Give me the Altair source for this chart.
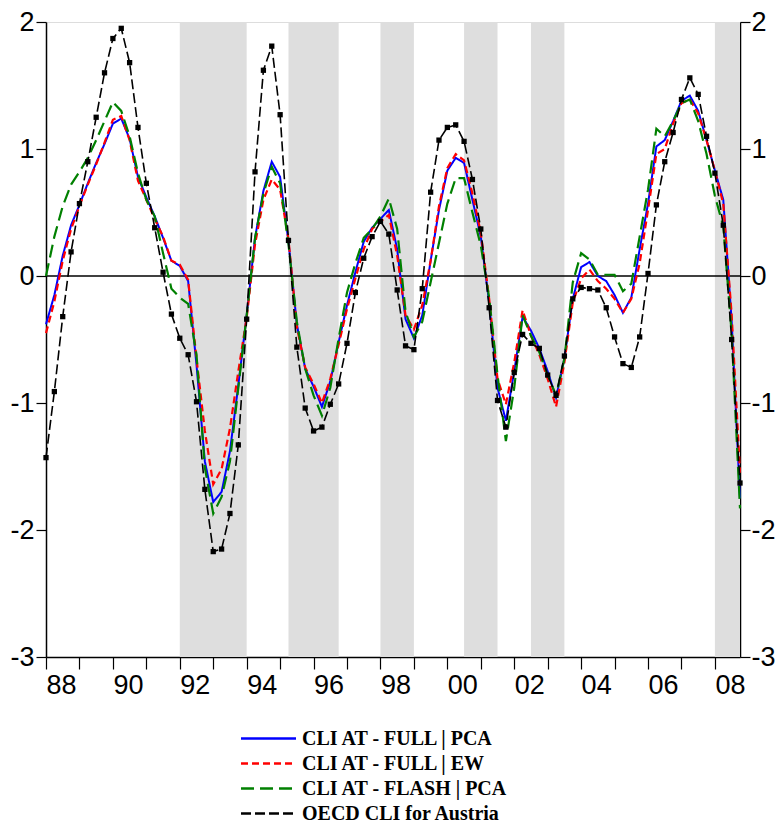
import altair as alt
import pandas as pd

# ---------------- data ----------------
start_year = 1988  # first quarter 1988Q1, quarterly data to 2008Q4
series_names = ["CLI AT - FULL | PCA", "CLI AT - FULL | EW",
                "CLI AT - FLASH | PCA", "OECD CLI for Austria"]

cli_full_pca = [-0.38, -0.15, 0.16, 0.40, 0.56, 0.73, 0.89, 1.04, 1.20, 1.24,
                1.08, 0.78, 0.62, 0.47, 0.30, 0.12, 0.08, -0.04, -0.70, -1.46,
                -1.78, -1.70, -1.38, -0.86, -0.31, 0.30, 0.67, 0.90, 0.78, 0.27,
                -0.38, -0.73, -0.87, -1.03, -0.83, -0.52, -0.23, 0.03, 0.27, 0.38,
                0.45, 0.52, 0.21, -0.34, -0.49, -0.31, 0.12, 0.52, 0.83, 0.93,
                0.89, 0.60, 0.31, -0.21, -0.88, -1.14, -0.75, -0.32, -0.43, -0.57,
                -0.75, -0.96, -0.65, -0.18, 0.07, 0.11, 0.00, -0.04, -0.15, -0.29,
                -0.17, 0.21, 0.57, 1.02, 1.07, 1.22, 1.38, 1.42, 1.30, 1.07,
                0.83, 0.60, -0.35, -1.75]

cli_full_ew = [-0.45, -0.20, 0.12, 0.37, 0.55, 0.72, 0.88, 1.05, 1.23, 1.26,
               1.07, 0.75, 0.60, 0.45, 0.31, 0.12, 0.09, -0.03, -0.65, -1.22,
               -1.64, -1.52, -1.20, -0.75, -0.33, 0.25, 0.60, 0.76, 0.68, 0.29,
               -0.40, -0.72, -0.85, -1.00, -0.81, -0.54, -0.26, -0.02, 0.21, 0.37,
               0.43, 0.48, 0.16, -0.31, -0.42, -0.23, 0.12, 0.55, 0.85, 0.96,
               0.91, 0.65, 0.34, -0.18, -0.81, -1.01, -0.68, -0.27, -0.47, -0.62,
               -0.81, -1.03, -0.68, -0.21, -0.02, 0.05, -0.04, -0.10, -0.18, -0.29,
               -0.18, 0.10, 0.52, 0.96, 1.00, 1.20, 1.36, 1.39, 1.28, 1.07,
               0.83, 0.57, -0.30, -1.55]

cli_flash_pca = [0.00, 0.31, 0.55, 0.72, 0.82, 0.93, 1.07, 1.22, 1.37, 1.30,
                 1.10, 0.81, 0.60, 0.47, 0.18, -0.10, -0.17, -0.22, -0.62, -1.51,
                 -1.87, -1.74, -1.46, -0.88, -0.31, 0.30, 0.65, 0.86, 0.73, 0.25,
                 -0.36, -0.73, -0.94, -1.10, -0.88, -0.49, -0.13, 0.10, 0.30, 0.37,
                 0.47, 0.61, 0.37, -0.28, -0.48, -0.36, -0.05, 0.26, 0.57, 0.77,
                 0.77, 0.50, 0.24, -0.17, -0.78, -1.30, -0.88, -0.31, -0.47, -0.60,
                 -0.78, -0.94, -0.65, -0.05, 0.18, 0.13, 0.01, 0.01, 0.01, -0.12,
                 -0.06, 0.31, 0.68, 1.16, 1.10, 1.22, 1.36, 1.39, 1.22, 0.96,
                 0.63, 0.39, -0.45, -1.83]

oecd_cli = [-1.43, -0.91, -0.32, 0.19, 0.57, 0.90, 1.25, 1.60, 1.87, 1.95,
            1.68, 1.17, 0.73, 0.38, 0.03, -0.30, -0.49, -0.62, -0.99, -1.68,
            -2.17, -2.15, -1.87, -1.33, -0.34, 0.82, 1.62, 1.81, 1.27, 0.28,
            -0.56, -1.04, -1.22, -1.19, -1.01, -0.85, -0.53, -0.13, 0.14, 0.31,
            0.43, 0.33, -0.11, -0.55, -0.58, -0.10, 0.66, 1.07, 1.17, 1.19,
            1.06, 0.76, 0.37, -0.25, -0.98, -1.19, -0.76, -0.46, -0.53, -0.57,
            -0.78, -0.94, -0.63, -0.18, -0.09, -0.10, -0.11, -0.25, -0.48, -0.69,
            -0.72, -0.48, 0.02, 0.56, 0.90, 1.13, 1.39, 1.56, 1.43, 1.10,
            0.81, 0.40, -0.50, -1.63]

recession_start = [1992.0, 1995.25, 1998.0, 2000.5, 2002.5, 2008.0]
recession_end = [1994.0, 1996.75, 1999.0, 2001.5, 2003.5, 2008.75]

year_ticks = list(range(1988, 2009))
y_ticks = [-3, -2, -1, 0, 1, 2]

series_colors = ["#0000FF", "#FF0000", "#008000", "#000000"]
series_dashes = [[1, 0], [7, 4], [13, 6], [10, 4]]

# ---------------- build tables ----------------
all_values = [cli_full_pca, cli_full_ew, cli_flash_pca, oecd_cli]
rows = []
for name, vals in zip(series_names, all_values):
    for i, v in enumerate(vals):
        rows.append({"t": start_year + i / 4.0, "value": v, "series": name})
df = pd.DataFrame(rows)
bands = pd.DataFrame({"start": recession_start, "end": recession_end})

x_scale = alt.Scale(domain=[1988, 2008.75], nice=False, zero=False)
y_scale = alt.Scale(domain=[-3, 2], nice=False, zero=False)

AX_FONT = "Liberation Sans"
x_axis = alt.Axis(values=year_ticks, title=None, grid=False, tickSize=12,
                  labelExpr="datum.value % 2 == 0 ? substring(toString(datum.value), 2, 4) : ''",
                  labelOffset=15, labelPadding=3, labelFlush=False,
                  labelOverlap=False, labelBound=False,
                  labelFont=AX_FONT, labelFontSize=27, labelColor="black",
                  tickColor="black", domainColor="black", tickWidth=1.2, domainWidth=1.5)


def y_axis(orient, pad):
    return alt.Axis(orient=orient, values=y_ticks, title=None, grid=False, tickSize=10,
                    labelPadding=pad, labelFont=AX_FONT, labelFontSize=27,
                    labelColor="black", tickColor="black", domainColor="black",
                    tickWidth=1.2, domainWidth=1.5, labelExpr="toString(datum.value)")


left_axis = y_axis("left", 2)

legend = alt.Legend(title=None, orient="none", legendX=212, legendY=706,
                    direction="vertical", symbolType="M-3,0H3", symbolSize=336,
                    symbolStrokeWidth=2.5, labelFont="Liberation Serif",
                    labelFontWeight="bold", labelFontSize=20, labelColor="black",
                    labelOffset=23, rowPadding=4, padding=0, labelLimit=400)

color_enc = alt.Color("series:N", scale=alt.Scale(domain=series_names, range=series_colors),
                      legend=legend)
dash_enc = alt.StrokeDash("series:N", scale=alt.Scale(domain=series_names, range=series_dashes),
                          legend=legend)

band_layer = alt.Chart(bands).mark_rect(color="#DEDEDE").encode(
    x=alt.X("start:Q", scale=x_scale, axis=x_axis),
    x2="end:Q",
)

zero_layer = alt.Chart(pd.DataFrame({"z": [0]})).mark_rule(color="black", strokeWidth=1.5).encode(
    y=alt.Y("z:Q", scale=y_scale, axis=left_axis)
)

line_layers = []
for name, w in zip(series_names, [2.0, 2.2, 2.2, 1.6]):
    line_layers.append(
        alt.Chart(df).transform_filter(alt.datum.series == name).mark_line(strokeWidth=w).encode(
            x=alt.X("t:Q", scale=x_scale, axis=x_axis),
            y=alt.Y("value:Q", scale=y_scale, axis=left_axis),
            color=color_enc,
            strokeDash=dash_enc,
        )
    )

point_layer = alt.Chart(df).transform_filter(alt.datum.series == series_names[3]).mark_square(
    size=28, color="black", opacity=1, filled=True
).encode(
    x=alt.X("t:Q", scale=x_scale, axis=x_axis),
    y=alt.Y("value:Q", scale=y_scale, axis=left_axis),
)

main = alt.layer(band_layer, zero_layer, *line_layers, point_layer)

right_axis_layer = alt.Chart(pd.DataFrame({"z": [0]})).mark_rule(opacity=0).encode(
    y=alt.Y("z:Q", scale=y_scale, axis=y_axis("right", 1))
)

chart = alt.layer(main, right_axis_layer).resolve_scale(y="independent").properties(
    width=694, height=635,
    autosize=alt.AutoSizeParams(type="none"),
    padding={"left": 38, "top": 14, "right": 36, "bottom": 168},
).configure_view(stroke="black", strokeWidth=1.5).configure(background="white")

chart.save("out.html", embed_options={"renderer": "svg", "actions": False})
